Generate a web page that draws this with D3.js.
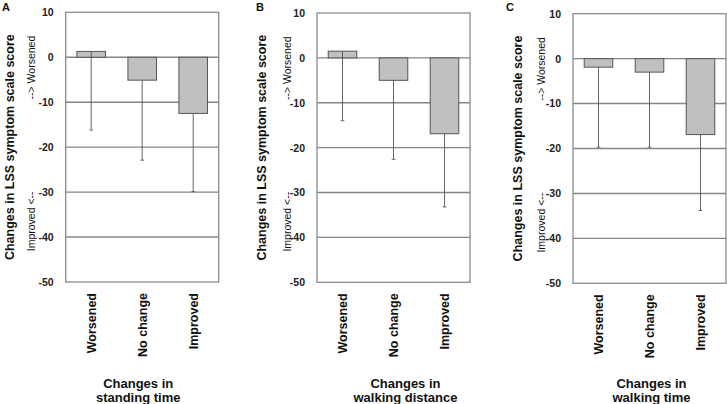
<!DOCTYPE html>
<html><head><meta charset="utf-8">
<script src="https://cdn.jsdelivr.net/npm/d3@7"></script>
<style>body{margin:0;background:#fff}svg{display:block}text{font-family:"Liberation Sans",Arial,sans-serif}</style>
</head><body>
<svg id="c" width="727" height="404"></svg>
<script>
const categories = ["Worsened", "No change", "Improved"];
const yTicks = [10, 0, -10, -20, -30, -40, -50];
const panelLetters = ["A", "B", "C"];
const panelTitles = [["Changes in", "standing time"], ["Changes in", "walking distance"], ["Changes in", "walking time"]];
const standingMean = [1.3, -5.1, -12.5];
const standingSD = [17.5, 17.8, 17.4];
const distanceMean = [1.5, -5.0, -16.9];
const distanceSD = [15.5, 17.6, 16.3];
const timeMean = [-1.9, -3.0, -16.9];
const timeSD = [17.8, 16.7, 16.9];
const yTitle = "Changes in LSS symptom scale score";
const worseLabel = "--> Worsened";
const improvedLabel = "Improved <--";

const series = [
  {mean: standingMean, sd: standingSD},
  {mean: distanceMean, sd: distanceSD},
  {mean: timeMean, sd: timeSD}
];
const layout = [
  {left: 65.7, top: 12.3, bottom: 282, letterX: 2, titleDx: -4, sideDx: -34},
  {left: 317, top: 13, bottom: 282.3, letterX: 256, titleDx: 12, sideDx: -30},
  {left: 573, top: 13.7, bottom: 283.3, letterX: 506, titleDx: 2, sideDx: -32}
];
const W = 153;
const svg = d3.select("#c");

series.forEach((s, p) => {
  const L = layout[p];
  const g = svg.append("g");
  const y = d3.scaleLinear().domain([-50, 10]).range([L.bottom, L.top]);
  const x = d3.scaleBand().domain(categories).range([L.left, L.left + W]).paddingInner(0.44).paddingOuter(0.22);

  // gridlines
  g.selectAll(".grid").data(yTicks.filter(t => t > -50 && t < 10)).enter().append("line")
    .attr("x1", L.left).attr("x2", L.left + W)
    .attr("y1", d => y(d)).attr("y2", d => y(d))
    .attr("stroke", "#858585").attr("stroke-width", 1.4);
  // frame
  g.append("rect").attr("x", L.left).attr("y", y(10)).attr("width", W).attr("height", y(-50) - y(10))
    .attr("fill", "none").attr("stroke", "#8a8a8a").attr("stroke-width", 1.3);

  // y axis tick labels
  const ax = d3.axisLeft(y).tickValues(yTicks).tickSize(0).tickPadding(12).tickFormat(d => String(d));
  const axg = g.append("g").attr("transform", `translate(${L.left},0)`).call(ax);
  axg.select(".domain").remove();
  axg.selectAll("text").attr("font-family", "Liberation Sans, Arial, sans-serif")
    .attr("font-size", 10.5).attr("font-weight", "bold").attr("fill", "#222");

  // bars
  g.selectAll(".bar").data(categories).enter().append("rect")
    .attr("x", d => x(d))
    .attr("width", x.bandwidth())
    .attr("y", (d, i) => y(Math.max(0, s.mean[i])))
    .attr("height", (d, i) => Math.abs(y(s.mean[i]) - y(0)))
    .attr("fill", "#c0c0c0").attr("stroke", "#555").attr("stroke-width", 1);

  // error bars (downward)
  categories.forEach((c, i) => {
    const cx = x(c) + x.bandwidth() / 2;
    const y1 = y(s.mean[i]), y2 = y(s.mean[i] - s.sd[i]);
    g.append("line").attr("x1", cx).attr("x2", cx).attr("y1", y1).attr("y2", y2)
      .attr("stroke", "#555").attr("stroke-width", 0.9);
    g.append("line").attr("x1", cx - 1.8).attr("x2", cx + 1.8).attr("y1", y2).attr("y2", y2)
      .attr("stroke", "#555").attr("stroke-width", 0.9);
  });

  // x category labels
  g.selectAll(".xl").data(categories).enter().append("text")
    .attr("transform", d => `translate(${x(d) + x.bandwidth() / 2},${L.bottom + 11}) rotate(-90)`)
    .attr("text-anchor", "end").attr("dy", "0.36em")
    .attr("font-size", 12.5).attr("font-weight", "bold").attr("fill", "#111")
    .text(d => d);

  // y title
  const cy = (y(10) + y(-50)) / 2;
  g.append("text").attr("transform", `translate(${L.left - 56},${cy}) rotate(-90)`)
    .attr("text-anchor", "middle").attr("dy", "0.36em")
    .attr("font-size", 12.5).attr("font-weight", "bold").attr("fill", "#111").text(yTitle);
  g.append("text").attr("transform", `translate(${L.left + L.sideDx},${y(-2.3)}) rotate(-90)`)
    .attr("text-anchor", "middle").attr("dy", "0.36em")
    .attr("font-size", 10.5).attr("fill", "#111").text(worseLabel);
  g.append("text").attr("transform", `translate(${L.left + L.sideDx},${y(-36.5)}) rotate(-90)`)
    .attr("text-anchor", "middle").attr("dy", "0.36em")
    .attr("font-size", 10.5).attr("fill", "#111").text(improvedLabel);

  // panel letter
  g.append("text").attr("x", L.letterX).attr("y", 11).attr("font-size", 11).attr("font-weight", "bold")
    .attr("fill", "#111").text(panelLetters[p]);

  // bottom title
  const tx = L.left + W / 2 + L.titleDx;
  panelTitles[p].forEach((t, k) => {
    g.append("text").attr("x", tx).attr("y", 383 + k * 14).attr("dy", "0.36em")
      .attr("text-anchor", "middle").attr("font-size", 13).attr("font-weight", "bold")
      .attr("fill", "#111").text(t);
  });
});
</script>
</body></html>
